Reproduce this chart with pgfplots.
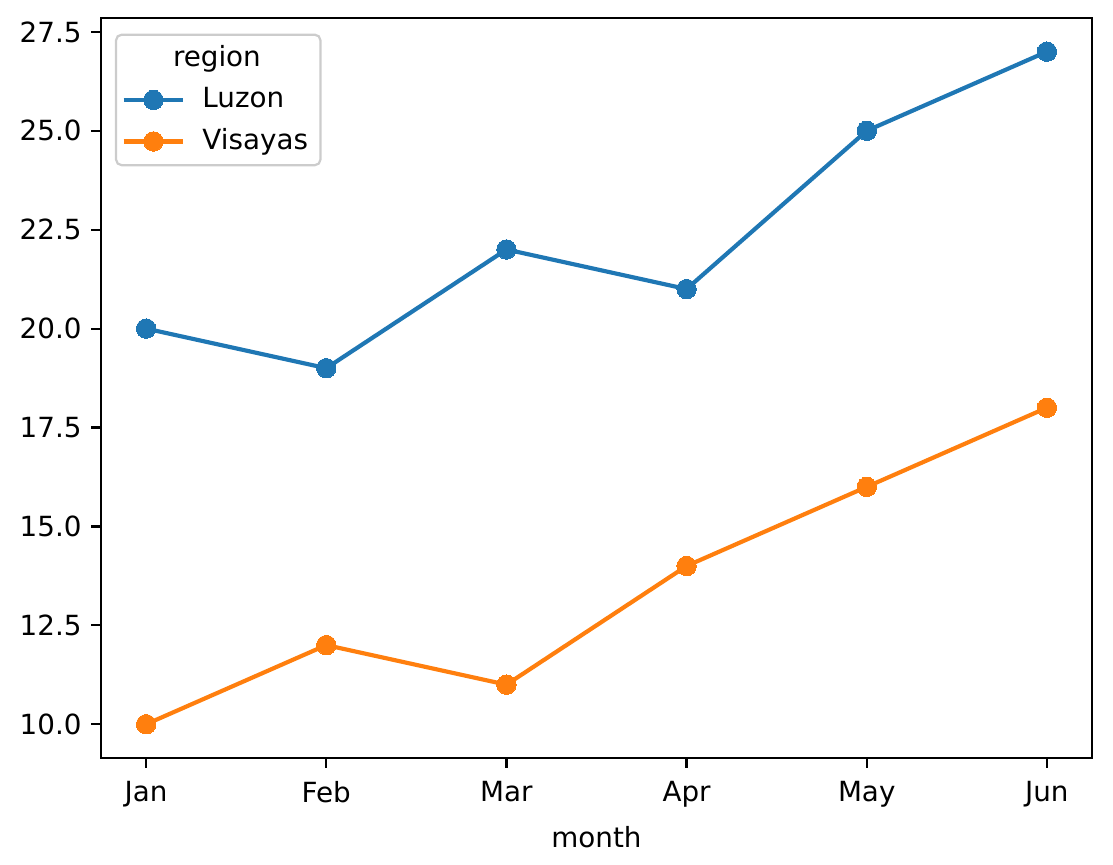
\documentclass[border=0pt]{standalone}
\usepackage{fontspec}
\setmainfont{DejaVu Sans}
\usepackage{pgfplots}
\pgfplotsset{compat=1.18}
\definecolor{tabblue}{HTML}{1F77B4}
\definecolor{taborange}{HTML}{FF7F0E}
\pgfplotsset{
  mpl line/.style={line width=1.5pt, mark=*, mark size=3.5pt,
    mark options={line width=0pt},
    legend image code/.code={\draw[mark repeat=2,mark phase=2]
      plot coordinates {(0pt,0pt)(10.7pt,0pt)(21.4pt,0pt)};
      \path (25.1pt,0pt);}},
}
\begin{document}
\begin{tikzpicture}
\begin{axis}[
  name=main,
  scale only axis,
  width=356.8pt, height=266.4pt,
  xmin=-0.25, xmax=5.25, ymin=9.15, ymax=27.85,
  xtick={0,1,2,3,4,5},
  xticklabels={Jan,Feb,Mar,Apr,May,Jun},
  ytick={10,12.5,15,17.5,20,22.5,25,27.5},
  yticklabel style={/pgf/number format/.cd,fixed,fixed zerofill,precision=1},
  xticklabel style={yshift=-1.4pt},
  /pgf/number format/assume math mode=true,
  tick label style={font=\fontsize{10}{12}\selectfont},
  label style={font=\fontsize{10}{12}\selectfont},
  tick align=outside, major tick length=3.5pt,
  tick style={black, line width=0.8pt},
  axis line style={line width=0.8pt},
  xtick pos=lower, ytick pos=left,
  xlabel={month},
  legend cell align=left,
  legend style={at={(0.014,0.979)}, anchor=north west,
    draw=black!20, rounded corners=2pt, line width=0.8pt,
    font=\fontsize{10}{12}\selectfont, row sep=2pt, inner xsep=2pt,
    nodes={inner xsep=2.5pt}},
]
\addlegendimage{empty legend}
\addlegendentry{\hspace*{-10.6pt}region}
\addplot[tabblue, mpl line]
  coordinates {(0,20) (1,19) (2,22) (3,21) (4,25) (5,27)};
\addlegendentry{Luzon}
\addplot[taborange, mpl line]
  coordinates {(0,10) (1,12) (2,11) (3,14) (4,16) (5,18)};
\addlegendentry{Visayas}
\end{axis}
\pgfresetboundingbox
\path ([shift={(-36.4pt,-38.5pt)}]main.south west) rectangle ([shift={(7.6pt,6.5pt)}]main.north east);
\end{tikzpicture}
\end{document}
